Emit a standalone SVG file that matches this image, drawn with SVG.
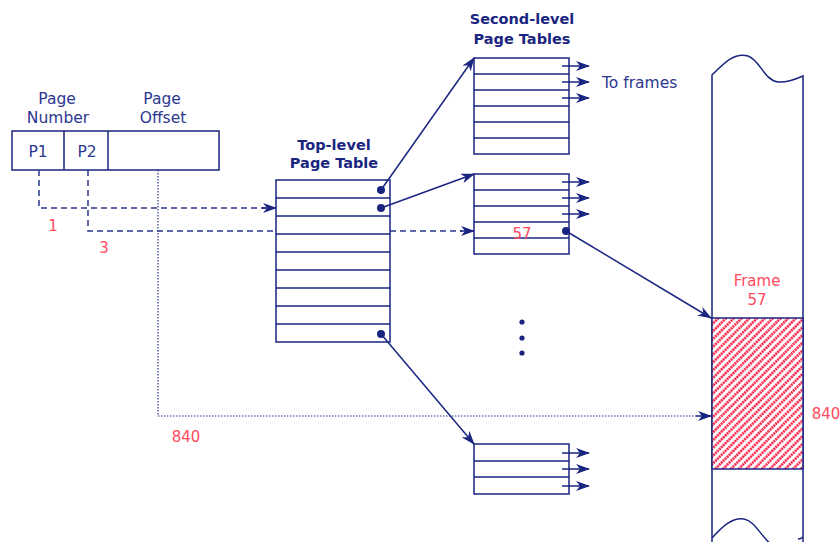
<svg xmlns="http://www.w3.org/2000/svg" width="840" height="542" viewBox="0 0 840 542">
  <style>
    .box { fill: #ffffff; stroke: #1a2580; stroke-width: 1.5; }
    .rule { stroke: #1a2580; stroke-width: 1.5; }
    .lbl { font-family: "DejaVu Sans", "Liberation Sans", sans-serif; font-size: 15.5px; fill: #2b3790; text-anchor: middle; }
    .title { font-family: "DejaVu Sans", "Liberation Sans", sans-serif; font-size: 14.5px; font-weight: bold; fill: #1a2580; text-anchor: middle; }
    .red { font-family: "DejaVu Sans", "Liberation Sans", sans-serif; font-size: 15px; fill: #ff4a5e; text-anchor: middle; }
    .link { stroke: #1a2580; stroke-width: 1.5; fill: none; marker-end: url(#head); }
    .dash { stroke: #2b3790; stroke-width: 1.5; fill: none; stroke-dasharray: 6 4; }
    .dot { stroke: #2b3790; stroke-width: 1.2; fill: none; stroke-dasharray: 1.5 1.5; }
    .pin { fill: #1a2580; }
  </style>
  <defs>
    <marker id="head" viewBox="0 0 14 10" refX="13" refY="5" markerWidth="14" markerHeight="10" markerUnits="userSpaceOnUse" orient="auto">
      <path d="M0,0 L14,5 L0,10 L4,5 z" fill="#1a2580"/>
    </marker>
    <pattern id="hatch" width="5.5" height="5.5" patternUnits="userSpaceOnUse" patternTransform="rotate(45)">
      <rect width="5.5" height="5.5" fill="#ffffff"/>
      <line x1="1.4" y1="0" x2="1.4" y2="5.5" stroke="#ff2448" stroke-width="2.6" stroke-dasharray="2 0.75"/>
    </pattern>
  </defs>

  <!-- Virtual address -->
  <g id="address">
    <text class="lbl" x="57" y="104">Page</text>
    <text class="lbl" x="58" y="123">Number</text>
    <text class="lbl" x="162" y="104">Page</text>
    <text class="lbl" x="163" y="123">Offset</text>
    <rect class="box" x="12" y="131" width="207" height="39"/>
    <line class="rule" x1="64" y1="131" x2="64" y2="170"/>
    <line class="rule" x1="108" y1="131" x2="108" y2="170"/>
    <text class="lbl" x="38" y="157">P1</text>
    <text class="lbl" x="87" y="157">P2</text>
  </g>

  <!-- Top-level page table -->
  <g id="top-table">
    <text class="title" x="334" y="150">Top-level</text>
    <text class="title" x="334" y="168">Page Table</text>
    <rect class="box" x="276" y="180" width="114" height="162"/>
    <line class="rule" x1="276" y1="198" x2="390" y2="198"/>
    <line class="rule" x1="276" y1="216" x2="390" y2="216"/>
    <line class="rule" x1="276" y1="234" x2="390" y2="234"/>
    <line class="rule" x1="276" y1="252" x2="390" y2="252"/>
    <line class="rule" x1="276" y1="270" x2="390" y2="270"/>
    <line class="rule" x1="276" y1="288" x2="390" y2="288"/>
    <line class="rule" x1="276" y1="306" x2="390" y2="306"/>
    <line class="rule" x1="276" y1="324" x2="390" y2="324"/>
    <circle class="pin" cx="381" cy="190" r="4"/>
    <circle class="pin" cx="381" cy="208" r="4"/>
    <circle class="pin" cx="381" cy="334" r="4"/>
  </g>

  <!-- Second-level page tables -->
  <g id="second-table-1">
    <text class="title" x="522" y="24">Second-level</text>
    <text class="title" x="522" y="44">Page Tables</text>
    <rect class="box" x="474" y="58" width="95" height="96"/>
    <line class="rule" x1="474" y1="74" x2="569" y2="74"/>
    <line class="rule" x1="474" y1="90" x2="569" y2="90"/>
    <line class="rule" x1="474" y1="106" x2="569" y2="106"/>
    <line class="rule" x1="474" y1="122" x2="569" y2="122"/>
    <line class="rule" x1="474" y1="138" x2="569" y2="138"/>
    <path class="link" d="M562,66 H589"/>
    <path class="link" d="M562,82 H589"/>
    <path class="link" d="M562,98 H589"/>
    <text class="lbl" x="602" y="88" style="text-anchor:start">To frames</text>
  </g>

  <g id="second-table-2">
    <rect class="box" x="474" y="174" width="95" height="80"/>
    <line class="rule" x1="474" y1="190" x2="569" y2="190"/>
    <line class="rule" x1="474" y1="206" x2="569" y2="206"/>
    <line class="rule" x1="474" y1="222" x2="569" y2="222"/>
    <line class="rule" x1="474" y1="238" x2="569" y2="238"/>
    <path class="link" d="M562,182 H589"/>
    <path class="link" d="M562,198 H589"/>
    <path class="link" d="M562,214 H589"/>
    <text class="red" x="522" y="239">57</text>
    <circle class="pin" cx="566" cy="231" r="4"/>
  </g>

  <g id="ellipsis">
    <circle class="pin" cx="522" cy="322" r="2.6"/>
    <circle class="pin" cx="522" cy="338" r="2.6"/>
    <circle class="pin" cx="522" cy="353" r="2.6"/>
  </g>

  <g id="second-table-3">
    <rect class="box" x="474" y="444" width="95" height="50"/>
    <line class="rule" x1="474" y1="461" x2="569" y2="461"/>
    <line class="rule" x1="474" y1="477" x2="569" y2="477"/>
    <path class="link" d="M562,453 H589"/>
    <path class="link" d="M562,469 H589"/>
    <path class="link" d="M562,486 H589"/>
  </g>

  <!-- Physical memory -->
  <g id="memory">
    <path d="M712,75 C725,62 735,52 748,56 C760,60 764,80 778,82 C788,83 796,79 803,76 L803,560 L712,560 Z" fill="#ffffff" stroke="none"/>
    <path d="M712,548 V75 C725,62 735,52 748,56 C760,60 764,80 778,82 C788,83 796,79 803,76 V548" fill="none" stroke="#1a2580" stroke-width="1.5"/>
    <path d="M712,538 C722,527 732,517 744,519 C755,521 762,538 772,545" fill="none" stroke="#1a2580" stroke-width="1.5"/>
    <path d="M798,539 C800,539 802,538 803,537" fill="none" stroke="#1a2580" stroke-width="1.5"/>
    <rect x="712" y="318" width="91" height="151" fill="url(#hatch)" stroke="#1a2580" stroke-width="1.5"/>
    <text class="red" x="757" y="286">Frame</text>
    <text class="red" x="757" y="305">57</text>
    <text class="red" x="826" y="419">840</text>
  </g>

  <!-- Translation paths -->
  <g id="connectors">
    <path class="dash" d="M39,170 V208 H266"/>
    <path class="link" d="M262,208 H276"/>
    <path class="dash" d="M88,170 V231 H276"/>
    <path class="dash" d="M390,231 H462"/>
    <path class="link" d="M460,231 H474"/>
    <path class="dot" d="M158,170 V416 H698"/>
    <path class="link" d="M696,416 H711"/>
    <path class="link" d="M381,190 L474,58"/>
    <path class="link" d="M381,208 L474,174"/>
    <path class="link" d="M381,334 L474,444"/>
    <path class="link" d="M566,231 L711,318"/>
    <text class="red" x="53" y="231">1</text>
    <text class="red" x="104" y="253">3</text>
    <text class="red" x="186" y="442">840</text>
  </g>
</svg>
